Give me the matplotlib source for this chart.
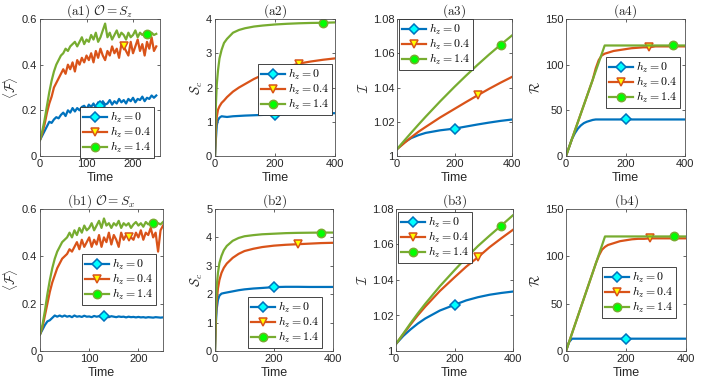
import numpy as np
import matplotlib
matplotlib.use("Agg")
import matplotlib.pyplot as plt
from matplotlib import ticker

plt.rcParams['font.family'] = ['Liberation Sans', 'DejaVu Sans']
plt.rcParams['mathtext.fontset'] = 'cm'

# ---------------- data ----------------
labels = [r'$h_z=0$', r'$h_z=0.4$', r'$h_z=1.4$']

t_noisy = np.arange(0, 251, 5)

a1_blue = [0.07, 0.09, 0.11, 0.13, 0.15, 0.145, 0.16, 0.17, 0.165, 0.18,
           0.19, 0.175, 0.20, 0.19, 0.21, 0.195, 0.21, 0.20, 0.215, 0.22,
           0.205, 0.225, 0.215, 0.23, 0.21, 0.235, 0.22, 0.24, 0.225, 0.23,
           0.245, 0.225, 0.24, 0.23, 0.25, 0.235, 0.245, 0.23, 0.25, 0.24,
           0.255, 0.235, 0.25, 0.245, 0.26, 0.24, 0.255, 0.25, 0.265, 0.255, 0.265]
a1_orange = [0.07, 0.10, 0.14, 0.19, 0.23, 0.26, 0.30, 0.32, 0.34, 0.36,
             0.38, 0.36, 0.40, 0.38, 0.41, 0.37, 0.42, 0.40, 0.43, 0.41,
             0.44, 0.42, 0.45, 0.41, 0.46, 0.43, 0.47, 0.44, 0.42, 0.46,
             0.44, 0.48, 0.45, 0.47, 0.43, 0.49, 0.48, 0.46, 0.44, 0.50,
             0.45, 0.48, 0.51, 0.46, 0.49, 0.44, 0.50, 0.47, 0.52, 0.46, 0.48]
a1_green = [0.07, 0.11, 0.16, 0.22, 0.28, 0.33, 0.37, 0.40, 0.42, 0.44,
            0.45, 0.47, 0.46, 0.48, 0.49, 0.50, 0.48, 0.50, 0.52, 0.49,
            0.51, 0.50, 0.53, 0.51, 0.54, 0.50, 0.52, 0.55, 0.58, 0.52,
            0.54, 0.51, 0.53, 0.55, 0.52, 0.54, 0.53, 0.51, 0.54, 0.52,
            0.53, 0.55, 0.52, 0.54, 0.53, 0.54, 0.535, 0.535, 0.54, 0.53, 0.535]

b1_blue = [0.07, 0.09, 0.11, 0.125, 0.13, 0.14, 0.15, 0.145, 0.15, 0.145,
           0.15, 0.145, 0.148, 0.143, 0.15, 0.145, 0.147, 0.144, 0.149, 0.145,
           0.146, 0.143, 0.148, 0.145, 0.147, 0.144, 0.146, 0.145, 0.143, 0.147,
           0.145, 0.143, 0.146, 0.144, 0.145, 0.142, 0.145, 0.143, 0.144, 0.142,
           0.144, 0.142, 0.143, 0.141, 0.143, 0.142, 0.141, 0.143, 0.142, 0.141, 0.142]
b1_orange = [0.07, 0.10, 0.15, 0.20, 0.25, 0.29, 0.32, 0.35, 0.37, 0.39,
             0.40, 0.41, 0.43, 0.42, 0.44, 0.46, 0.43, 0.47, 0.44, 0.46,
             0.48, 0.44, 0.47, 0.45, 0.49, 0.44, 0.48, 0.46, 0.50, 0.45,
             0.49, 0.47, 0.44, 0.50, 0.47, 0.49, 0.48, 0.48, 0.47, 0.50,
             0.48, 0.51, 0.47, 0.50, 0.49, 0.52, 0.48, 0.50, 0.42, 0.51, 0.53]
b1_green = [0.07, 0.11, 0.17, 0.24, 0.30, 0.35, 0.39, 0.42, 0.44, 0.46,
            0.47, 0.48, 0.50, 0.48, 0.51, 0.49, 0.52, 0.50, 0.53, 0.51,
            0.52, 0.54, 0.51, 0.53, 0.55, 0.52, 0.56, 0.53, 0.54, 0.52,
            0.54, 0.53, 0.55, 0.52, 0.54, 0.53, 0.54, 0.52, 0.535, 0.545,
            0.53, 0.54, 0.525, 0.545, 0.535, 0.54, 0.54, 0.545, 0.54, 0.535, 0.545]

t_sc = [0, 3, 6, 10, 15, 22, 30, 40, 60, 80, 100, 130, 160, 200, 240, 280, 320, 360, 400]
a2_blue = [0, 0.5, 0.9, 1.05, 1.12, 1.16, 1.15, 1.14, 1.16, 1.17, 1.18, 1.19, 1.2, 1.21, 1.22, 1.225, 1.235, 1.24, 1.25]
a2_orange = [0, 0.8, 1.15, 1.35, 1.45, 1.55, 1.62, 1.72, 1.88, 2.0, 2.1, 2.25, 2.37, 2.5, 2.6, 2.7, 2.76, 2.81, 2.85]
a2_green = [0, 1.5, 2.1, 2.5, 2.85, 3.1, 3.3, 3.42, 3.6, 3.68, 3.73, 3.78, 3.81, 3.84, 3.86, 3.875, 3.885, 3.89, 3.9]
b2_blue = [0, 1.0, 1.5, 1.8, 1.95, 2.02, 2.04, 2.06, 2.1, 2.14, 2.17, 2.2, 2.22, 2.25, 2.26, 2.26, 2.255, 2.255, 2.255]
b2_orange = [0, 1.2, 1.8, 2.2, 2.5, 2.75, 2.93, 3.08, 3.28, 3.42, 3.52, 3.6, 3.66, 3.71, 3.74, 3.76, 3.78, 3.8, 3.81]
b2_green = [0, 1.6, 2.3, 2.75, 3.1, 3.35, 3.55, 3.7, 3.88, 3.98, 4.04, 4.08, 4.11, 4.13, 4.15, 4.16, 4.165, 4.17, 4.17]

t_i = [0, 25, 50, 75, 100, 150, 200, 240, 280, 320, 360, 400]
a3_blue = [1.004, 1.008, 1.0105, 1.0122, 1.0135, 1.015, 1.016, 1.0172, 1.0184, 1.0195, 1.0205, 1.0213]
a3_orange = [1.004, 1.0075, 1.011, 1.0142, 1.017, 1.0225, 1.0275, 1.0315, 1.0354, 1.0392, 1.0428, 1.0462]
a3_green = [1.004, 1.0089, 1.0137, 1.0184, 1.023, 1.0319, 1.0404, 1.0469, 1.0532, 1.0592, 1.0649, 1.0704]
b3_blue = [1.004, 1.0085, 1.0122, 1.0155, 1.0183, 1.0228, 1.026, 1.0285, 1.0303, 1.0317, 1.0327, 1.0335]
b3_orange = [1.004, 1.0095, 1.015, 1.0202, 1.025, 1.0338, 1.0415, 1.0475, 1.0528, 1.0585, 1.0635, 1.0683]
b3_green = [1.004, 1.0098, 1.0157, 1.0213, 1.0266, 1.0365, 1.0455, 1.0525, 1.0591, 1.065, 1.0707, 1.0765]

t_r = [0, 10, 20, 30, 40, 50, 60, 70, 80, 90, 100, 110, 120, 130, 140, 160, 180, 200, 220, 240, 260, 280, 300, 320, 340, 360, 380, 400]
a4_blue = [0, 9.3, 18.6, 25, 30, 33.5, 36, 37.5, 38.5, 39.5, 40, 40, 40, 40, 40, 40, 40, 40, 40, 40, 40, 40, 40, 40, 40, 40, 40, 40]
a4_orange = [0, 9.3, 18.6, 27.9, 37.2, 46.5, 55.8, 65.1, 74.4, 83.7, 96, 105, 110, 112, 113, 115, 116, 117, 118, 118.5, 119, 119, 120, 120, 120, 120, 120, 120]
a4_green = [0, 9.3, 18.6, 27.9, 37.2, 46.5, 55.8, 65.1, 74.4, 83.7, 93, 102.3, 111.6, 121, 121, 121, 121, 121, 121, 121, 121, 121, 121, 121, 121, 121, 121, 121]
b4_blue = [0, 9.3, 13, 13, 13, 13, 13, 13, 13, 13, 13, 13, 13, 13, 13, 13, 13, 13, 13, 13, 13, 13, 13, 13, 13, 13, 13, 13]
b4_orange = [0, 9.3, 18.6, 27.9, 37.2, 46.5, 55.8, 65.1, 74.4, 83.7, 93, 101, 107, 110, 112, 114, 116, 117, 118, 118.5, 118.5, 119, 119, 119, 119, 119, 119, 119]
b4_green = a4_green

# marker times (one marker per curve)
mk_noisy = [130, 180, 230]
mk_other = [200, 280, 360]

# ---------------- style ----------------
colors = ['#0072BD', '#D95319', '#77AC30']
markers = ['D', 'v', 'o']
mfaces = ['#00FFFF', '#FFFF00', '#00FF00']
msizes = [5, 6, 6]

W, H = 716, 385
fig = plt.figure(figsize=(W / 100, H / 100), dpi=100)

cols_a = [(40, 160), (215, 335), (397, 512), (566, 685)]
cols_b = [(40, 163), (215, 333), (396, 513), (566, 686)]
row_a = (19, 156)
row_b = (209, 351)


def make_ax(col, row):
    x0, x1 = col
    y0, y1 = row
    return fig.add_axes([x0 / W, 1 - y1 / H, (x1 - x0) / W, (y1 - y0) / H])


fmt = ticker.FuncFormatter(lambda v, p: f'{v:g}')


def style(ax, xlim, xticks, ylim, yticks, ylabel, title):
    ax.set_xlim(*xlim)
    ax.set_ylim(*ylim)
    ax.set_xticks(xticks)
    ax.set_yticks(yticks)
    ax.yaxis.set_major_formatter(fmt)
    ax.tick_params(direction='in', length=2.5, width=0.5, top=True, right=True,
                   labelsize=8, colors='#262626', pad=2)
    for s in ax.spines.values():
        s.set_color('#505050')
        s.set_linewidth(0.6)
    ax.set_xlabel('Time', fontsize=9, labelpad=2.5, color='#262626')
    ax.set_ylabel(ylabel, fontsize=9.5, labelpad=1, color='#262626')
    ax.set_title(title, fontsize=9.5, pad=3, color='#262626')


def plot_set(ax, t, ys, mk_t):
    t = np.asarray(t)
    for i, y in enumerate(ys):
        idx = int(np.argmin(np.abs(t - mk_t[i])))
        ax.plot(t, y, color=colors[i], lw=1.6, marker=markers[i],
                markevery=[idx], ms=msizes[i], mfc=mfaces[i], mec=colors[i],
                mew=1.1, label=labels[i])


def add_legend(ax, x, y):
    leg = ax.legend(loc='upper left', bbox_to_anchor=(x / W, 1 - y / H),
                    bbox_transform=fig.transFigure, borderaxespad=0,
                    fontsize=8.5, handlelength=2.0, handletextpad=0.25,
                    labelspacing=0.0, borderpad=0.25, fancybox=False,
                    framealpha=1, edgecolor='#262626')
    leg.get_frame().set_linewidth(0.6)


# ---------- row a ----------
ax = make_ax(cols_a[0], row_a)
plot_set(ax, t_noisy, [a1_blue, a1_orange, a1_green], mk_noisy)
style(ax, (0, 258), [0, 100, 200], (0, 0.6), [0, 0.2, 0.4, 0.6],
      r'$\langle\mathcal{F}\rangle$', r'$\mathrm{(a1)}\ \mathcal{O}=S_z$')
add_legend(ax, 80, 107)

ax = make_ax(cols_a[1], row_a)
plot_set(ax, t_sc, [a2_blue, a2_orange, a2_green], mk_other)
style(ax, (0, 400), [0, 200, 400], (0, 4), [0, 1, 2, 3, 4],
      r'$\mathcal{S}_c$', r'$\mathrm{(a2)}$')
add_legend(ax, 258, 64)

ax = make_ax(cols_a[2], row_a)
plot_set(ax, t_i, [a3_blue, a3_orange, a3_green], mk_other)
style(ax, (0, 400), [0, 200, 400], (1, 1.08), [1, 1.02, 1.04, 1.06, 1.08],
      r'$\mathcal{I}$', r'$\mathrm{(a3)}$')
add_legend(ax, 399, 19)

ax = make_ax(cols_a[3], row_a)
plot_set(ax, t_r, [a4_blue, a4_orange, a4_green], mk_other)
style(ax, (0, 400), [0, 200, 400], (0, 150), [0, 50, 100, 150],
      r'$\mathcal{R}$', r'$\mathrm{(a4)}$')
add_legend(ax, 606, 57)

# ---------- row b ----------
ax = make_ax(cols_b[0], row_b)
plot_set(ax, t_noisy, [b1_blue, b1_orange, b1_green], mk_noisy)
style(ax, (0, 250), [0, 100, 200], (0, 0.6), [0, 0.2, 0.4, 0.6],
      r'$\langle\mathcal{F}\rangle$', r'$\mathrm{(b1)}\ \mathcal{O}=S_x$')
add_legend(ax, 82, 254)

ax = make_ax(cols_b[1], row_b)
plot_set(ax, t_sc, [b2_blue, b2_orange, b2_green], mk_other)
style(ax, (0, 400), [0, 200, 400], (0, 5), [0, 1, 2, 3, 4, 5],
      r'$\mathcal{S}_c$', r'$\mathrm{(b2)}$')
add_legend(ax, 248, 297)

ax = make_ax(cols_b[2], row_b)
plot_set(ax, t_i, [b3_blue, b3_orange, b3_green], mk_other)
style(ax, (0, 400), [0, 200, 400], (1, 1.08), [1, 1.02, 1.04, 1.06, 1.08],
      r'$\mathcal{I}$', r'$\mathrm{(b3)}$')
add_legend(ax, 398, 212)

ax = make_ax(cols_b[3], row_b)
plot_set(ax, t_r, [b4_blue, b4_orange, b4_green], mk_other)
style(ax, (0, 400), [0, 200, 400], (0, 150), [0, 50, 100, 150],
      r'$\mathcal{R}$', r'$\mathrm{(b4)}$')
add_legend(ax, 602, 267)

fig.savefig('out.png', dpi=100)
